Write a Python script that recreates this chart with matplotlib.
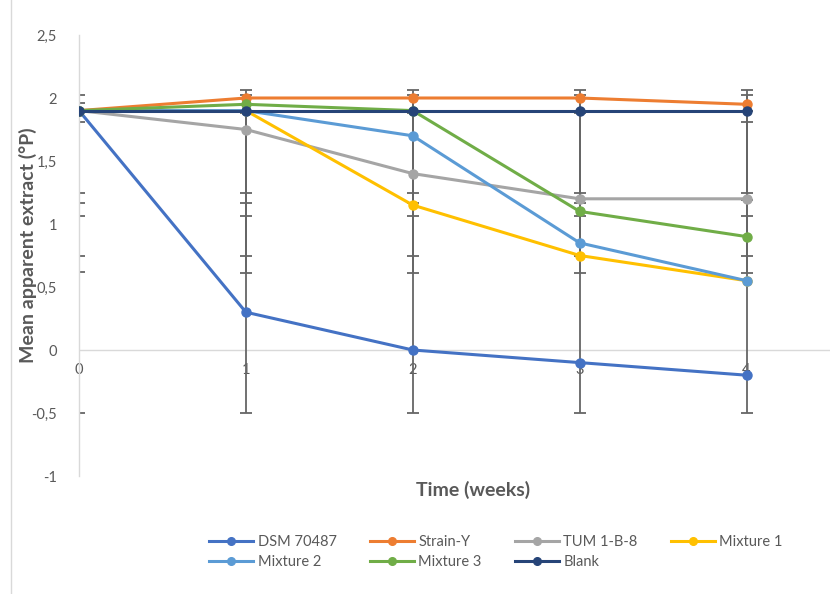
import matplotlib
matplotlib.use("Agg")
import matplotlib.pyplot as plt
from matplotlib.ticker import FuncFormatter, MultipleLocator
from matplotlib.lines import Line2D

plt.rcParams['font.family'] = ['Lato', 'DejaVu Sans']

weeks = [0, 1, 2, 3, 4]
series_names = ["DSM 70487", "Strain-Y", "TUM 1-B-8", "Mixture 1", "Mixture 2", "Mixture 3", "Blank"]
dsm = [1.9, 0.3, 0.0, -0.1, -0.2]
strain_y = [1.9, 2.0, 2.0, 2.0, 1.95]
tum = [1.9, 1.75, 1.4, 1.2, 1.2]
mix1 = [1.9, 1.9, 1.15, 0.75, 0.55]
mix2 = [1.9, 1.9, 1.7, 0.85, 0.55]
mix3 = [1.9, 1.95, 1.9, 1.1, 0.9]
blank = [1.9, 1.9, 1.9, 1.9, 1.9]

# error bar end points per series
dsm_lo = [-0.5, -0.5, -0.5, -0.5, -0.5]
dsm_hi = [2.02, 2.06, 2.06, 2.06, 2.06]
sy_lo = [1.25, 1.25, 1.25, 1.25, 1.25]
sy_hi = [1.96, 2.02, 2.02, 2.02, 2.02]
tum_lo = [1.17, 1.17, 1.17, 1.17, 1.19]
tum_hi = [1.9, 1.9, 1.9, 1.9, 1.9]
m1_lo = [1.06, 1.06, 1.06, 1.06, 1.06]
m1_hi = [1.9, 1.9, 1.9, 1.9, 1.9]
m2_lo = [0.75, 0.75, 0.75, 0.75, 0.75]
m2_hi = [1.9, 1.9, 1.9, 1.9, 1.9]
m3_lo = [0.62, 0.61, 0.61, 0.61, 0.61]
m3_hi = [1.9, 1.9, 1.9, 1.9, 1.9]
bl_lo = [1.81, 1.88, 1.88, 1.88, 1.81]
bl_hi = [1.9, 1.9, 1.9, 1.9, 1.9]

values = [dsm, strain_y, tum, mix1, mix2, mix3, blank]
lows = [dsm_lo, sy_lo, tum_lo, m1_lo, m2_lo, m3_lo, bl_lo]
highs = [dsm_hi, sy_hi, tum_hi, m1_hi, m2_hi, m3_hi, bl_hi]
colors = ["#4472C4", "#ED7D31", "#A5A5A5", "#FFC000", "#5B9BD5", "#70AD47", "#264478"]

W, H = 839, 594
fig = plt.figure(figsize=(W / 100, H / 100), dpi=100)
ax = fig.add_axes([79 / W, 1 - 476 / H, (830 - 79) / W, (476 - 35) / H])

err_col = "#666666"
for lo, hi in zip(lows, highs):
    ax.vlines(weeks, lo, hi, color=err_col, lw=1.3, zorder=2)
    ax.plot(weeks, lo, linestyle="none", marker="_", ms=8, mew=1.3, color=err_col, zorder=2)
    ax.plot(weeks, hi, linestyle="none", marker="_", ms=8, mew=1.3, color=err_col, zorder=2)

handles = []
for name, vals, c in zip(series_names, values, colors):
    ax.plot(weeks, vals, color=c, lw=2.2, marker="o", ms=6.5, zorder=3, solid_capstyle="round")
    handles.append(Line2D([], [], color=c, lw=2.2, marker="o", ms=5.5, label=name))

ax.set_xlim(0, 4.5)
ax.set_ylim(-1, 2.5)
ax.yaxis.set_major_locator(MultipleLocator(0.5))
ax.yaxis.set_major_formatter(FuncFormatter(lambda v, p: ("%g" % v).replace(".", ",")))
for s in ["top", "right", "bottom"]:
    ax.spines[s].set_visible(False)
ax.spines["left"].set_color("#d9d9d9")
ax.spines["left"].set_linewidth(1.0)
ax.axhline(0, color="#d9d9d9", lw=1.0, zorder=1)
ax.tick_params(axis="y", length=0, pad=16, labelsize=10.5, labelcolor="#595959")
ax.set_xticks([])
for w in weeks:
    ax.text(w, -0.1, str(w), ha="center", va="top", fontsize=10.5, color="#595959", zorder=1)

fig.text(28 / W, 1 - 245 / H, "Mean apparent extract (°P)", rotation=90, ha="center", va="center",
         fontsize=14, fontweight="bold", color="#595959")
fig.text(473 / W, 1 - 490 / H, "Time (weeks)", ha="center", va="center",
         fontsize=14, fontweight="bold", color="#595959")

# legend filled row by row (4 columns)
order = [0, 4, 1, 5, 2, 6, 3]
fig.legend(handles=[handles[i] for i in order], ncol=4, loc="center",
           bbox_to_anchor=(496 / W, 1 - 552 / H),
           frameon=False, fontsize=10.5, handlelength=3.0, handletextpad=0.3, columnspacing=2.3,
           labelspacing=0.4, labelcolor="#595959")

fig.add_artist(Line2D([11 / W, 11 / W], [0, 1], color="#d9d9d9", lw=1.0, transform=fig.transFigure))

fig.savefig("out.png", dpi=100)
